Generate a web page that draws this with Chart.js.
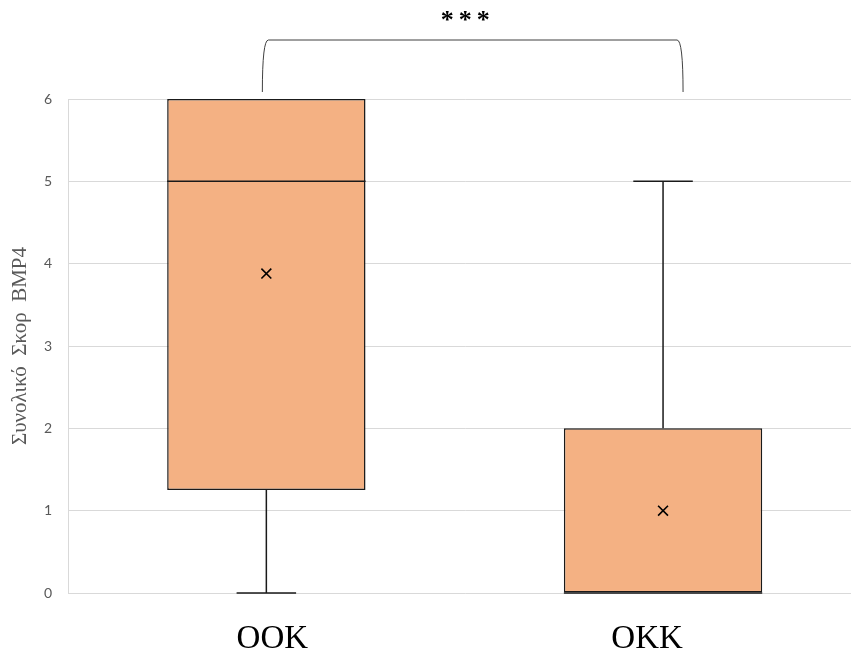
<!DOCTYPE html>
<html>
<head>
<meta charset="utf-8">
<script src="https://cdn.jsdelivr.net/npm/chart.js@4/dist/chart.umd.min.js"></script>
<style>
  html, body { margin: 0; padding: 0; background: #fff; overflow: hidden; }
  #wrap { width: 870px; height: 655px; position: relative; }
</style>
</head>
<body>
<div id="wrap"><canvas id="c"></canvas></div>
<script>
// Box-plot summary per group
const categories = ['OOK', 'OKK'];
const minVals    = [0, 0];
const q1Vals     = [1.25, 0];
const medianVals = [5, 0];
const q3Vals     = [6, 2];
const maxVals    = [6, 5];
const meanVals   = [3.88, 1];
const yTicks     = [0, 1, 2, 3, 4, 5, 6];
const yTitle     = 'Συνολικό  Σκορ  BMP4';
const sigLabel   = '***';

const boxFill = '#F4B183';
const lineCol = '#1a1a1a';
// horizontal nudge of each group name under its box
const labelShift = [6, -16];

// Whiskers, caps and medians, positioned through the chart's scales
const boxExtras = {
  id: 'boxExtras',
  afterDatasetsDraw(chart) {
    const { ctx, scales: { x, y } } = chart;
    const meta = chart.getDatasetMeta(0);
    ctx.save();
    ctx.strokeStyle = lineCol;
    ctx.lineWidth = 1.5;
    categories.forEach((c, i) => {
      const cx = x.getPixelForValue(i);
      const bar = meta.data[i];
      const half = bar.width / 2;
      const capHalf = half * 0.3;
      const pMin = y.getPixelForValue(minVals[i]);
      const pMax = y.getPixelForValue(maxVals[i]);
      const pQ1 = y.getPixelForValue(q1Vals[i]);
      const pQ3 = y.getPixelForValue(q3Vals[i]);
      const pMed = y.getPixelForValue(medianVals[i]);
      ctx.beginPath();
      if (minVals[i] < q1Vals[i]) {
        ctx.moveTo(cx, pQ1); ctx.lineTo(cx, pMin);
        ctx.moveTo(cx - capHalf, pMin); ctx.lineTo(cx + capHalf, pMin);
      }
      if (maxVals[i] > q3Vals[i]) {
        ctx.moveTo(cx, pQ3); ctx.lineTo(cx, pMax);
        ctx.moveTo(cx - capHalf, pMax); ctx.lineTo(cx + capHalf, pMax);
      }
      ctx.moveTo(cx - half, pMed); ctx.lineTo(cx + half, pMed);
      ctx.stroke();
    });
    ctx.restore();
  }
};

// Group names under the boxes
const groupLabels = {
  id: 'groupLabels',
  afterDraw(chart) {
    const { ctx, scales: { x } } = chart;
    ctx.save();
    ctx.fillStyle = '#000';
    ctx.font = '33px "Liberation Serif", "Times New Roman", serif';
    ctx.textAlign = 'center';
    ctx.textBaseline = 'alphabetic';
    categories.forEach((c, i) => {
      ctx.fillText(c, x.getPixelForValue(i) + labelShift[i], 648);
    });
    ctx.restore();
  }
};

// Significance bracket between the two groups
const sigBracket = {
  id: 'sigBracket',
  afterDraw(chart) {
    const { ctx, scales: { x } } = chart;
    const xl = x.getPixelForValue(0) - 4;
    const xr = x.getPixelForValue(1) + 20;
    const top = 40, bottom = 92, r = 6;
    ctx.save();
    ctx.strokeStyle = '#404040';
    ctx.lineWidth = 1;
    ctx.beginPath();
    ctx.moveTo(xl, bottom);
    ctx.quadraticCurveTo(xl, top, xl + r, top);
    ctx.lineTo(xr - r, top);
    ctx.quadraticCurveTo(xr, top, xr, bottom);
    ctx.stroke();
    ctx.fillStyle = '#000';
    ctx.font = 'bold 26px "Liberation Serif", serif';
    ctx.letterSpacing = '5px';
    ctx.textAlign = 'center';
    ctx.textBaseline = 'middle';
    ctx.fillText(sigLabel, (xl + xr) / 2 - 5, 21);
    ctx.restore();
  }
};

new Chart(document.getElementById('c'), {
  data: {
    labels: categories,
    datasets: [
      {
        type: 'bar',
        data: categories.map((c, i) => [q1Vals[i], q3Vals[i]]),
        backgroundColor: boxFill,
        borderColor: lineCol,
        borderWidth: 1.5,
        borderSkipped: false,
        categoryPercentage: 1,
        barPercentage: 0.5,
        order: 2
      },
      {
        type: 'line',
        data: meanVals,
        showLine: false,
        pointStyle: 'crossRot',
        pointRadius: 7,
        borderColor: '#000',
        pointBorderWidth: 1.6,
        backgroundColor: '#000',
        order: 1
      }
    ]
  },
  options: {
    responsive: true,
    maintainAspectRatio: false,
    animation: false,
    layout: { padding: { top: 99, left: 0, right: 0, bottom: 0 } },
    plugins: { legend: { display: false }, tooltip: { enabled: false } },
    scales: {
      x: {
        type: 'category',
        offset: true,
        grid: { display: false },
        border: { display: false },
        ticks: { display: false },
        afterFit(s) { s.height = 62; }
      },
      y: {
        min: 0,
        max: 6,
        afterBuildTicks(s) { s.ticks = yTicks.map(v => ({ value: v })); },
        grid: { color: '#d9d9d9', lineWidth: 1, drawTicks: false },
        border: { display: true, color: '#d9d9d9' },
        ticks: {
          color: '#595959',
          font: { family: 'Lato, "Open Sans", sans-serif', size: 14 },
          padding: 16
        },
        title: {
          display: true,
          text: yTitle,
          color: '#595959',
          font: { family: '"Liberation Serif", "Times New Roman", serif', size: 21 },
          padding: { top: 8, bottom: 0 }
        },
        afterFit(s) { s.width = 68; }
      }
    }
  },
  plugins: [boxExtras, groupLabels, sigBracket]
});
</script>
</body>
</html>
